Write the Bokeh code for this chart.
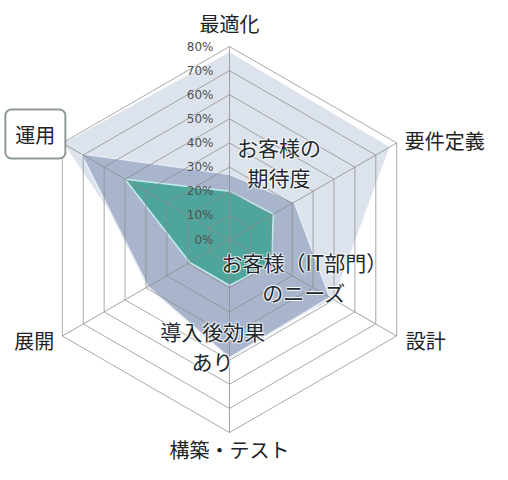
import numpy as np
from bokeh.plotting import figure
from bokeh.models import Range1d, ColumnDataSource
from bokeh.embed import file_html
from bokeh.resources import INLINE
from bokeh.core.properties import value

# ---- data ----
categories = ["最適化", "要件定義", "設計", "構築・テスト", "展開", "運用"]
series_names = ["お客様の\n期待度", "導入後効果\nあり", "お客様（IT部門）\nのニーズ"]
expectation = [78, 77, 50, 45, 35, 80]   # お客様の期待度
effect = [27, 31, 48, 49, 39, 71]        # 導入後効果あり
needs = [20, 21, 20, 19, 19, 50]         # お客様（IT部門）のニーズ
tick_values = [0, 10, 20, 30, 40, 50, 60, 70, 80]
tick_labels = ["0%", "10%", "20%", "30%", "40%", "50%", "60%", "70%", "80%"]

# ---- style ----
FONT = "Noto Sans CJK JP"
fills = ["#dde3ec", "#a9b5cc", "#4da59b"]
edges = ["#ffffff", "#e6ecf6", "#c3ecec"]
cat_align = ["center", "left", "left", "center", "right", "center"]
cat_dx = [0, 8, 9, 0, -8, -27]
cat_dy = [-23, -3, 4, 17, 4, -9]
name_pos = [(20.5, 32.0), (-7.0, -44.0), (31.0, -15.4)]

n = len(categories)
ang = np.deg2rad(90 - 60 * np.arange(n))
rmax = max(tick_values)

def poly(vals):
    v = np.asarray(vals, dtype=float)
    return list(v * np.cos(ang)), list(v * np.sin(ang))

p = figure(width=492, height=464, output_backend="svg", toolbar_location=None,
           x_range=Range1d(-94.92, 109.0), y_range=Range1d(-93.26, 99.07),
           min_border=0)
p.axis.visible = False
p.grid.visible = False
p.outline_line_color = None
p.background_fill_color = "white"

# series fills
for vals, fc, ec in zip([expectation, effect, needs], fills, edges):
    xs, ys = poly(vals)
    p.patch(xs, ys, fill_color=fc, fill_alpha=1.0, line_color=ec, line_width=1.5)

# grid rings and spokes
ring_xs, ring_ys = [], []
for t in tick_values[1:]:
    xs, ys = poly([t] * n)
    ring_xs.append(xs + [xs[0]])
    ring_ys.append(ys + [ys[0]])
p.multi_line(ring_xs, ring_ys, line_color="#8c8c8c", line_alpha=0.75, line_width=1)
p.segment(x0=[0] * n, y0=[0] * n, x1=list(rmax * np.cos(ang)), y1=list(rmax * np.sin(ang)),
          line_color="#8c8c8c", line_alpha=0.8, line_width=1)

# percent tick labels
p.text(x=[0] * len(tick_values), y=tick_values, text=tick_labels,
       text_font=value("DejaVu Sans"), text_font_size="12px", text_color="#505050",
       text_align="right", text_baseline="middle", x_offset=-16)

# category labels
cx = list(rmax * np.cos(ang))
cy = list(rmax * np.sin(ang))
src = ColumnDataSource(dict(x=cx[:5], y=cy[:5], t=categories[:5], a=cat_align[:5],
                            dx=cat_dx[:5], dy=cat_dy[:5]))
p.text(x="x", y="y", text="t", source=src, text_align="a", x_offset="dx", y_offset="dy",
       text_baseline="middle", text_font=value(FONT), text_font_size="20px", text_color="#222222")
p.text(x=[cx[5]], y=[cy[5]], text=[categories[5]], text_align="center", text_baseline="middle",
       x_offset=cat_dx[5], y_offset=cat_dy[5], text_font=value(FONT), text_font_size="20px",
       text_color="#222222", border_line_color="#8f9a98", border_line_width=2,
       background_fill_color="white", border_radius=6, padding=10)

# series name overlays (soft white halo underneath, then dark text)
nx = [q[0] for q in name_pos]
ny = [q[1] for q in name_pos]
for ox, oy in [(1, 1), (-1, -1), (1, -1), (-1, 1)]:
    p.text(x=nx, y=ny, text=series_names, text_align="center", text_baseline="middle",
           text_line_height=1.0, text_font=value(FONT), text_font_size="21px",
           text_color="white", text_alpha=0.7, x_offset=ox, y_offset=oy)
p.text(x=nx, y=ny, text=series_names, text_align="center", text_baseline="middle",
       text_line_height=1.0, text_font=value(FONT), text_font_size="21px", text_color="#1e2a30")

open("out.html", "w").write(file_html(p, INLINE))
